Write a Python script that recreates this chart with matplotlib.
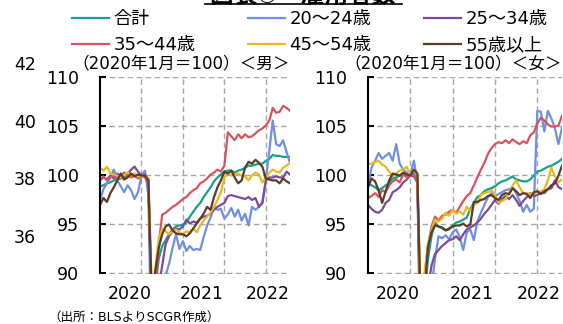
import matplotlib
matplotlib.use("Agg")
import matplotlib.pyplot as plt
from matplotlib.lines import Line2D

plt.rcParams['font.family'] = ['DejaVu Sans', 'Noto Sans CJK JP']

# monthly index, 0 = 2019-01
months = list(range(56))

series_names = ["合計", "20～24歳", "25～34歳", "35～44歳", "45～54歳", "55歳以上"]
series_colors = ["#17a08a", "#6f8fe0", "#7a4b9c", "#d9525e", "#e8b820", "#5b3b2b"]

# men, 2020-01 = 100
men_total = [98.9, 99.0, 99.2, 99.3, 99.5, 99.6, 99.7, 99.8, 100.0, 99.9, 100.1, 100.0, 100.0, 100.1,
             99.5, 86.5, 88.5, 91.5, 92.8, 93.4, 94.0, 94.5, 94.8, 94.9, 95.0, 95.2, 95.8, 96.3,
             96.8, 97.2, 97.8, 98.3, 98.8, 99.4, 99.8, 100.1, 100.4, 100.5, 100.5, 100.3, 100.5, 100.6,
             100.8, 101.0, 101.0, 101.1, 101.2, 101.2, 101.5, 101.7, 102.1, 102.0, 102.0, 101.9, 101.9, 101.9]
men_20_24 = [97.5, 98.6, 99.2, 99.8, 100.6, 99.5, 98.9, 98.3, 99.0, 98.5, 97.6, 98.3, 100.0, 100.5,
             98.0, 80.0, 83.0, 86.0, 88.5, 89.8, 91.0, 92.6, 94.0, 92.5, 93.3, 92.3, 92.8, 92.4,
             92.5, 92.4, 93.7, 94.9, 95.7, 96.8, 96.5, 96.6, 95.6, 96.0, 96.7, 95.8, 96.5, 95.4,
             96.1, 94.9, 96.8, 96.5, 96.8, 97.2, 99.5, 102.5, 105.6, 103.2, 103.0, 103.6, 102.4, 101.3]
men_25_34 = [99.5, 99.8, 99.6, 100.0, 99.7, 100.2, 99.9, 100.3, 100.1, 100.6, 100.9, 100.4, 100.0, 100.1,
             99.6, 84.5, 86.5, 88.5, 90.8, 93.0, 93.8, 94.3, 94.6, 94.5, 94.8, 95.5, 95.1, 95.3,
             95.2, 95.6, 95.8, 95.9, 96.1, 96.5, 96.8, 97.0, 97.2, 97.9, 98.0, 97.9, 97.8, 97.7,
             97.6, 97.8, 97.5, 97.7, 96.8, 97.2, 99.5, 99.8, 99.8, 99.9, 99.8, 99.8, 100.4, 100.1]
men_35_44 = [99.6, 99.9, 99.5, 99.8, 100.0, 99.7, 99.9, 99.6, 100.1, 99.8, 100.0, 99.7, 100.0, 99.8,
             99.3, 86.0, 88.0, 93.0, 96.0, 96.2, 96.5, 96.8, 97.0, 97.3, 97.6, 97.8, 98.2, 98.5,
             98.7, 99.2, 99.4, 99.7, 100.1, 100.3, 100.6, 100.4, 101.0, 104.4, 104.0, 103.6, 104.2, 103.8,
             104.2, 103.9, 104.0, 104.3, 104.6, 104.8, 105.1, 105.6, 106.9, 106.4, 106.5, 107.1, 106.9, 106.6]
men_45_54 = [100.8, 100.5, 100.9, 100.2, 100.1, 100.0, 99.8, 100.1, 100.3, 100.0, 100.2, 99.9, 100.0, 100.0,
             99.7, 88.5, 90.5, 93.5, 94.6, 94.3, 94.0, 94.3, 94.5, 94.2, 94.0, 94.3, 94.2, 94.6,
             94.2, 94.9, 95.4, 95.8, 96.2, 96.8, 97.5, 98.3, 99.8, 100.2, 100.0, 100.1, 100.2, 100.0,
             99.9, 99.5, 100.0, 100.3, 100.1, 99.3, 99.8, 100.3, 100.6, 100.4, 100.3, 100.8, 101.0, 101.3]
men_55_over = [97.0, 97.7, 97.3, 98.2, 98.8, 99.5, 100.2, 99.6, 99.8, 100.2, 99.9, 100.1, 100.0, 100.0,
               99.5, 87.5, 90.2, 92.6, 94.0, 94.8, 95.0, 94.4, 94.1, 94.0, 94.0, 93.8, 94.1, 94.6,
               95.1, 95.6, 96.1, 96.8, 96.5, 97.8, 98.8, 99.5, 100.4, 100.2, 100.5, 99.8, 99.2, 99.5,
               100.8, 101.4, 101.2, 101.6, 101.3, 100.9, 99.7, 99.6, 99.5, 99.5, 99.2, 99.7, 99.4, 99.2]

# women, 2020-01 = 100
women_total = [99.2, 99.0, 98.8, 98.5, 98.7, 99.0, 99.2, 99.7, 99.8, 100.0, 100.0, 100.1, 100.0, 100.2,
               99.6, 84.5, 87.5, 91.5, 93.8, 95.2, 94.8, 94.6, 94.4, 94.5, 94.9, 95.2, 95.3, 95.5,
               95.7, 96.6, 97.2, 97.8, 98.0, 98.4, 98.6, 98.7, 98.9, 99.2, 99.4, 99.5, 99.7, 99.9,
               99.6, 99.5, 99.4, 99.4, 99.6, 100.0, 100.4, 100.5, 100.7, 100.9, 101.0, 101.2, 101.4, 101.7]
women_20_24 = [98.9, 100.8, 101.5, 102.3, 101.7, 102.0, 102.3, 101.5, 103.2, 101.2, 100.6, 100.3, 100.0, 101.5,
               99.5, 77.0, 81.0, 85.0, 88.5, 91.5, 93.8, 93.6, 93.9, 93.5, 94.2, 94.5, 93.7, 92.4,
               94.2, 94.5, 93.4, 95.3, 96.2, 97.0, 97.8, 98.2, 97.9, 98.1, 98.3, 98.5, 98.6, 98.8,
               98.2, 97.4, 96.3, 97.0, 96.3, 96.6, 106.6, 106.5, 104.5, 106.6, 105.8, 104.8, 103.2, 104.9]
women_25_34 = [97.0, 96.6, 96.3, 96.2, 96.5, 97.2, 97.5, 98.3, 98.5, 98.8, 99.3, 99.6, 100.0, 99.9,
               99.3, 82.0, 85.0, 88.5, 90.8, 92.0, 92.4, 92.8, 93.1, 93.4, 93.5, 93.8, 93.4, 94.0,
               94.5, 94.7, 94.9, 95.2, 95.6, 96.1, 96.5, 97.0, 97.5, 97.1, 97.6, 97.9, 97.6, 98.0,
               97.5, 96.9, 97.4, 97.8, 98.2, 97.9, 98.0, 98.3, 98.2, 98.6, 98.7, 99.5, 98.8, 98.6]
women_35_44 = [97.7, 97.9, 98.2, 97.8, 98.5, 98.3, 99.0, 99.4, 99.6, 99.3, 100.2, 99.8, 100.0, 100.0,
               99.4, 84.0, 89.5, 92.8, 94.8, 95.8, 95.4, 95.9, 96.0, 96.3, 96.5, 96.2, 96.8, 97.4,
               97.9, 98.2, 99.0, 99.8, 100.6, 101.3, 102.2, 102.8, 103.2, 103.4, 103.3, 103.6, 103.3, 103.7,
               103.4, 103.2, 103.5, 103.3, 104.1, 104.4, 105.3, 105.9, 105.6, 105.2, 105.0, 105.0, 105.1, 106.1]
women_45_54 = [101.2, 101.2, 101.4, 101.5, 101.1, 100.9, 100.4, 99.9, 100.2, 100.5, 100.6, 100.9, 100.0, 100.6,
               100.0, 86.0, 90.0, 93.0, 94.5, 95.5, 95.3, 95.6, 96.2, 95.9, 96.5, 96.1, 96.3, 96.0,
               96.8, 96.4, 97.0, 97.2, 98.0, 98.2, 98.3, 98.5, 98.0, 97.2, 97.4, 97.6, 98.2, 99.0,
               99.5, 98.8, 98.2, 98.2, 98.1, 98.2, 98.3, 98.4, 98.6, 99.5, 100.8, 99.9, 99.3, 99.6]
women_55_over = [98.8, 99.7, 99.4, 98.5, 97.2, 98.4, 99.5, 100.2, 100.1, 100.0, 100.3, 100.1, 100.0, 100.6,
                 100.2, 85.0, 88.0, 92.7, 94.2, 94.9, 94.8, 94.7, 94.4, 94.6, 94.8, 94.9, 94.9, 95.1,
                 94.8, 95.0, 97.3, 97.3, 97.5, 97.6, 97.9, 98.0, 97.7, 97.5, 98.0, 98.2, 98.1, 98.7,
                 98.4, 98.0, 98.2, 98.1, 97.7, 98.3, 98.4, 98.1, 98.4, 98.6, 99.0, 99.2, 100.0, 101.0]

men = [men_total, men_20_24, men_25_34, men_35_44, men_45_54, men_55_over]
women = [women_total, women_20_24, women_25_34, women_35_44, women_45_54, women_55_over]

year_gridlines = [12, 24, 36, 48]
year_label_pos = [8.5, 29.5, 48.5]
year_labels = ["2020", "2021", "2022"]

W, H = 563, 324
fig = plt.figure(figsize=(W / 100, H / 100), dpi=100)


def draw_panel(rect, data, tag):
    ax = fig.add_axes(rect)
    for vals, c, name in zip(data, series_colors, series_names):
        ax.plot(months, vals, color=c, lw=1.6, label=name, solid_joinstyle="round")
    ax.set_xlim(0, 55)
    ax.set_ylim(90, 110)
    ax.set_yticks([90, 95, 100, 105, 110])
    ax.set_xticks(year_label_pos)
    ax.set_xticklabels(year_labels)
    ax.set_xticks(year_gridlines, minor=True)
    ax.tick_params(axis="x", which="both", length=0, labelsize=12.5, pad=8)
    ax.tick_params(axis="y", direction="in", length=4, width=1.4, labelsize=12.5, pad=15)
    ax.grid(axis="y", which="major", color="#a6a6a6", ls=(0, (4, 2.5)), lw=1.0)
    ax.grid(axis="x", which="minor", color="#a6a6a6", ls=(0, (4, 2.5)), lw=1.0)
    for s in ["top", "right", "bottom"]:
        ax.spines[s].set_visible(False)
    ax.spines["left"].set_linewidth(1.5)
    ax.spines["left"].set_color("black")
    ax.set_axisbelow(True)
    ax.text(1.0, 1.025, "（2020年1月＝100）＜" + tag + "＞", transform=ax.transAxes,
            ha="right", va="bottom", fontsize=12)
    return ax


ax_m = draw_panel([100 / W, 1 - 273.5 / H, 190 / W, 196 / H], men, "男")
ax_f = draw_panel([368 / W, 1 - 273.5 / H, 194 / W, 196 / H], women, "女")

# legend: 3 columns, matplotlib fills column by column
h, l = ax_m.get_legend_handles_labels()
order = [0, 3, 1, 4, 2, 5]
fig.legend([h[i] for i in order], [l[i] for i in order], ncol=3,
           loc="upper left", bbox_to_anchor=(72 / W, 1 - 10 / H), frameon=False,
           fontsize=13, handlelength=2.05, handletextpad=0.25, columnspacing=2.9,
           labelspacing=0.45, borderpad=0, borderaxespad=0)

# title (cut at top of the figure) and its underline
fig.text(303 / W, 1 - 2.5 / H, "図表③　雇用者数", ha="center", va="baseline",
         fontsize=17, fontweight="bold")
fig.add_artist(Line2D([205 / W, 402 / W], [1 - 4 / H, 1 - 4 / H], color="black", lw=1.2))

# axis values of the neighbouring chart
for v, y in zip(["42", "40", "38", "36"], [65, 123, 180, 238]):
    fig.text(36 / W, 1 - y / H, v, ha="right", va="center", fontsize=12.5)

fig.text(48 / W, 1 - 317 / H, "（出所：BLSよりSCGR作成）", ha="left", va="center", fontsize=9)

fig.savefig("out.png", dpi=100)
